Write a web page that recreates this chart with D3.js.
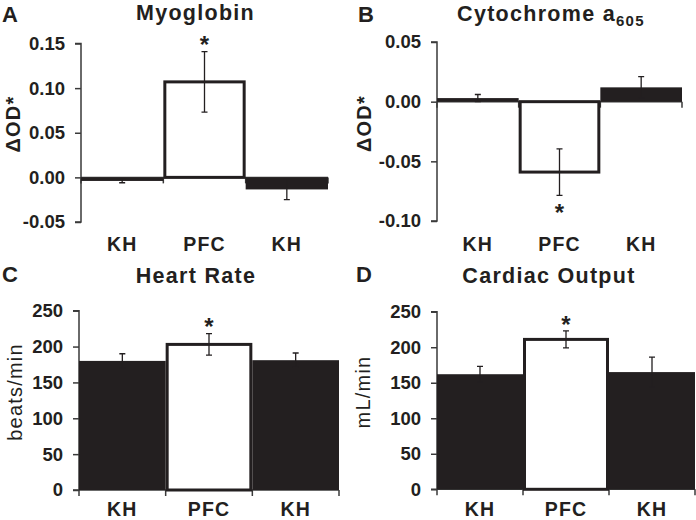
<!DOCTYPE html>
<html><head><meta charset="utf-8">
<script src="https://cdn.jsdelivr.net/npm/d3@7"></script>
<style>
html,body{margin:0;padding:0;background:#fff;}
svg text{font-family:"Liberation Sans",Arial,sans-serif;fill:#231f20;letter-spacing:0.06em;}
</style></head>
<body>
<svg id="c" width="696" height="520"></svg>
<script>
// ---- data ----
const categories = ["KH", "PFC", "KH"];
const myoglobin = [-0.004, 0.107, -0.0135];
const myoglobinErr = [0.002, 0.034, 0.0115];
const cytochrome = [0.003, -0.059, 0.012];
const cytochromeErr = [0.003, 0.0195, 0.009];
const heartRate = [180, 203, 181];
const heartRateErr = [10, 15, 10];
const cardiacOutput = [162, 211, 165];
const cardiacOutputErr = [11, 12, 21];
const odTicksA = [-0.05, 0, 0.05, 0.10, 0.15];
const odTicksB = [-0.10, -0.05, 0, 0.05];
const rateTicks = [0, 50, 100, 150, 200, 250];
const significant = [false, true, false];

// ---- layout ----
const panels = [
  {letter:"A", title:"Myoglobin", vals:myoglobin, errs:myoglobinErr, domain:[-0.05,0.15], ticks:odTicksA, fmt:d=>d.toFixed(2),
   ylabel:"ΔOD*", ylabelBold:true, x0:81, x1:328, yTop:43.5, yBot:222, letterX:2, letterY:22, titleX:195.5, titleY:20,
   ylabX:20, ylabY:124, catY:251, starDir:"up"},
  {letter:"B", title:"Cytochrome a", sub:"605", vals:cytochrome, errs:cytochromeErr, domain:[-0.10,0.05], ticks:odTicksB, fmt:d=>d.toFixed(2),
   ylabel:"ΔOD*", ylabelBold:true, x0:437, x1:682, yTop:42, yBot:221, letterX:358, letterY:22, titleX:551, titleY:21,
   ylabX:371, ylabY:123.5, catY:251, starDir:"down"},
  {letter:"C", title:"Heart Rate", vals:heartRate, errs:heartRateErr, domain:[0,250], ticks:rateTicks, fmt:d=>String(d),
   ylabel:"beats/min", ylabelBold:false, x0:79, x1:339, yTop:310.7, yBot:490, letterX:2, letterY:282, titleX:196, titleY:283,
   ylabX:22, ylabY:392, catY:516, starDir:"up"},
  {letter:"D", title:"Cardiac Output", vals:cardiacOutput, errs:cardiacOutputErr, domain:[0,250], ticks:rateTicks, fmt:d=>String(d),
   ylabel:"mL/min", ylabelBold:false, x0:437, x1:695, yTop:311.7, yBot:489.3, letterX:356, letterY:282, titleX:549, titleY:283,
   ylabX:370, ylabY:392, catY:516, starDir:"up"}
];

const svg = d3.select("#c");
const ink = "#231f20", axisCol = "#3a3a3a";

panels.forEach(p => {
  const g = svg.append("g");
  const x = d3.scaleBand().domain(d3.range(categories.length)).range([p.x0, p.x1]).padding(0);
  const y = d3.scaleLinear().domain(p.domain).range([p.yBot, p.yTop]);

  // y axis
  const yAxis = d3.axisLeft(y).tickValues(p.ticks).tickFormat(p.fmt).tickSize(6).tickPadding(10);
  const ya = g.append("g").attr("transform", `translate(${p.x0},0)`).call(yAxis);
  ya.select(".domain").attr("stroke", axisCol).attr("stroke-width", 1.5).attr("d", `M-6,${p.yTop}H0V${p.yBot}H-6`);
  ya.selectAll(".tick line").attr("stroke", axisCol).attr("stroke-width", 1.5);
  ya.selectAll(".tick text").attr("fill", ink).style("font-size", "18.5px").style("font-weight", "bold")
    .style("letter-spacing", "0").style("font-family", '"Liberation Sans",Arial,sans-serif');

  // x axis at zero
  const y0 = y(0);
  const bounds = d3.range(categories.length).map(i => x(i)).concat([p.x1]);
  g.append("line").attr("x1", p.x0).attr("x2", p.x1).attr("y1", y0).attr("y2", y0)
    .attr("stroke", axisCol).attr("stroke-width", 1.5);
  g.selectAll(".xt").data(bounds).join("line")
    .attr("x1", d => d).attr("x2", d => d).attr("y1", y0).attr("y2", y0 + 6)
    .attr("stroke", axisCol).attr("stroke-width", 1.5);

  // bars
  p.vals.forEach((v, i) => {
    const top = Math.min(y(v), y0), h = Math.abs(y(v) - y0);
    if (significant[i]) {
      g.append("rect").attr("x", x(i) + 1.5).attr("y", top).attr("width", x.bandwidth() - 3).attr("height", h)
        .attr("fill", "#fff").attr("stroke", ink).attr("stroke-width", 3);
    } else {
      g.append("rect").attr("x", x(i)).attr("y", top).attr("width", x.bandwidth()).attr("height", h)
        .attr("fill", ink);
    }
  });

  // error bars
  p.vals.forEach((v, i) => {
    const cx = x(i) + x.bandwidth() / 2;
    const lo = y(v - p.errs[i]), hi = y(v + p.errs[i]);
    g.append("path").attr("d", `M${cx},${lo}V${hi}M${cx-3},${lo}H${cx+3}M${cx-3},${hi}H${cx+3}`)
      .attr("stroke", ink).attr("stroke-width", 1.3).attr("fill", "none");
    if (significant[i]) {
      const sy = p.starDir === "up" ? hi + 1.8 : lo + 26;
      g.append("text").attr("x", cx).attr("y", sy).attr("text-anchor", "middle")
        .style("font-size", "24px").style("font-weight", "bold").style("letter-spacing", "0").text("*");
    }
  });

  // category labels
  g.selectAll(".cat").data(categories).join("text")
    .attr("x", (d, i) => x(i) + x.bandwidth() / 2).attr("y", p.catY).attr("text-anchor", "middle")
    .style("font-size", "19.5px").style("font-weight", "bold").text(d => d);

  // title
  const t = g.append("text").attr("x", p.titleX).attr("y", p.titleY).attr("text-anchor", "middle")
    .style("font-size", "21.5px").style("font-weight", "bold").text(p.title);
  if (p.sub) t.append("tspan").attr("dy", 5).style("font-size", "15px").text(p.sub);

  // panel letter
  g.append("text").attr("x", p.letterX).attr("y", p.letterY)
    .style("font-size", "22px").style("font-weight", "bold").style("letter-spacing", "0").text(p.letter);

  // y label
  g.append("text").attr("transform", `translate(${p.ylabX},${p.ylabY}) rotate(-90)`)
    .attr("text-anchor", "middle").style("font-size", "20px")
    .style("font-weight", p.ylabelBold ? "bold" : "normal").text(p.ylabel);
});
</script>
</body></html>
